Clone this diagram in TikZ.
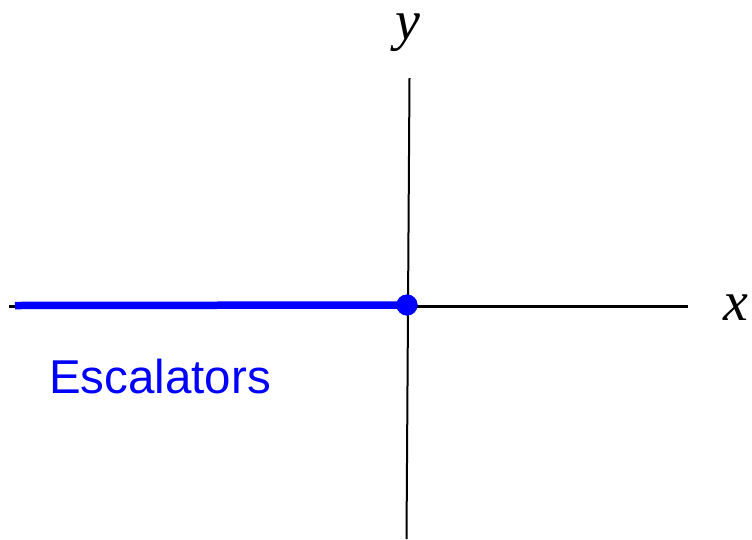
\documentclass[tikz,border=0pt]{standalone}
\usepackage{fontspec}
\setmainfont{Liberation Serif}
\setsansfont{Liberation Sans}
\usepackage{tikz}
\usetikzlibrary{positioning}
\definecolor{escblue}{HTML}{0000FF}

\begin{document}
\begin{tikzpicture}[x=1pt, y=-1pt]
    \useasboundingbox (0,0) rectangle (752,539);
    % axes
    \coordinate (xl) at (9,306);
    \coordinate (xr) at (688,306);
    \coordinate (yt) at (409.5,78);
    \coordinate (yb) at (406.5,539);
    \draw[line width=3pt] (xl) -- (xr);
    \draw[line width=2pt] (yt) -- (yb);
    \node[anchor=base, inner sep=0pt, text height=0.5em, font=\fontsize{56}{60}\selectfont\itshape] (ylab) at (408,39) {y};
    \node[anchor=base, inner sep=0pt, text height=0.5em, font=\fontsize{56}{60}\selectfont\itshape] (xlab) at (736,320) {x};
    % escalator branch
    \coordinate (el) at (15,305.5);
    \node[circle, fill=escblue, inner sep=0pt, minimum size=21pt] (orig) at (407,305) {};
    \draw[escblue, line width=7.5pt] (el) -- (orig.center);
    \node[circle, fill=escblue, inner sep=0pt, minimum size=21pt] at (orig) {};
    \node[anchor=base west, inner sep=0pt, escblue, font=\fontsize{47.5}{50}\selectfont\sffamily] (esc) at (49,393) {Escalators};
\end{tikzpicture}
\end{document}
